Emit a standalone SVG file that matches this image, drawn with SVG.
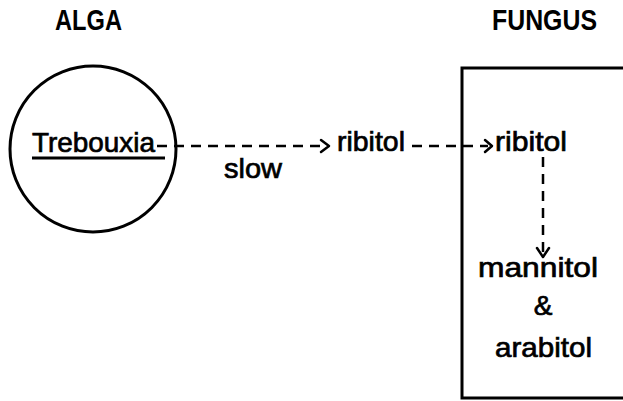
<svg xmlns="http://www.w3.org/2000/svg" width="623" height="401" viewBox="0 0 623 401">
<style>
text{font-family:"Liberation Sans",Arial,sans-serif;fill:#000}
.t{font-size:30px;font-weight:bold}
.l{font-size:28px;stroke:#000;stroke-width:0.7}
.dash{fill:none;stroke:#000;stroke-width:2.5;stroke-dasharray:10 7}
.head{fill:none;stroke:#000;stroke-width:2.5;stroke-linecap:round;stroke-linejoin:round}
</style>
<rect width="623" height="401" fill="#fff"/>
<g id="title-alga"><text class="t" x="55" y="30" textLength="67" lengthAdjust="spacingAndGlyphs">ALGA</text></g>
<g id="title-fungus"><text class="t" x="492" y="30" textLength="105" lengthAdjust="spacingAndGlyphs">FUNGUS</text></g>
<g id="alga">
<circle cx="93" cy="149" r="83" fill="none" stroke="#000" stroke-width="3"/>
<text class="l" x="32" y="152" textLength="123" lengthAdjust="spacingAndGlyphs">Trebouxia</text>
<line x1="32" y1="158" x2="165" y2="158" stroke="#000" stroke-width="3"/>
</g>
<g id="fungus">
<path d="M640,68 H462 V398 H640" fill="none" stroke="#000" stroke-width="3"/>
</g>
<g id="ribitol1"><text class="l" x="337" y="151" textLength="68" lengthAdjust="spacingAndGlyphs">ribitol</text></g>
<g id="ribitol2"><text class="l" x="495" y="151" textLength="72" lengthAdjust="spacingAndGlyphs">ribitol</text></g>
<g id="products">
<text class="l" x="478" y="277" textLength="120" lengthAdjust="spacingAndGlyphs">mannitol</text>
<text class="l" x="543" y="315" text-anchor="middle">&amp;</text>
<text class="l" x="495" y="357" textLength="97" lengthAdjust="spacingAndGlyphs">arabitol</text>
</g>
<g id="connectors">
<path class="dash" d="M157,146 H328"/>
<path class="head" d="M321,140 L329,146 L321,152"/>
<text class="l" x="224" y="178" textLength="58" lengthAdjust="spacingAndGlyphs">slow</text>
<path class="dash" d="M412,146 H488"/>
<path class="head" d="M485,140 L492,146 L485,152"/>
<path class="dash" d="M543,157 V255"/>
<path class="head" d="M537,248 L543,257 L549,248"/>
</g>
</svg>
